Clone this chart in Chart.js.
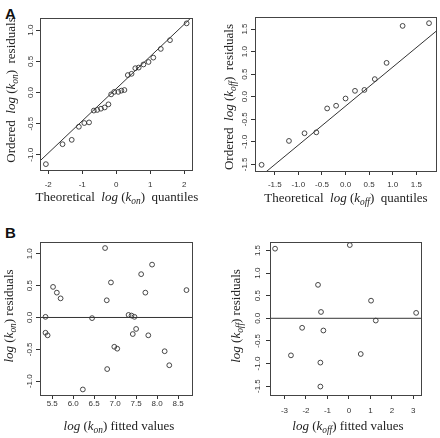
<!DOCTYPE html>
<html>
<head>
<meta charset="utf-8">
<script src="https://cdn.jsdelivr.net/npm/chart.js@4.4.1/dist/chart.umd.min.js"></script>
<style>
body { margin: 0; background: #fff; width: 440px; height: 438px; position: relative; overflow: hidden; }
canvas { position: absolute; }
.ttl { position: absolute; width: 220px; text-align: center; white-space: nowrap;
  font-family: "Liberation Serif", "Times New Roman", serif; font-size: 13px; line-height: 16px; color: #222; }
.ttl sub { font-size: 72%; vertical-align: -0.3em; line-height: 0; }
.rot { transform: rotate(-90deg); }
.lab { position: absolute; font-family: "Liberation Sans", Arial, sans-serif; font-weight: bold;
  font-size: 15px; line-height: 15px; color: #111; }
</style>
</head>
<body>
<div class="lab" style="left:5px;top:6px">A</div>
<div class="lab" style="left:5px;top:225px">B</div>

<canvas id="konQQ" width="187" height="187" style="left:10px;top:8px"></canvas>
<canvas id="koffQQ" width="216" height="189" style="left:225px;top:7px"></canvas>
<canvas id="konRes" width="187" height="188" style="left:10px;top:232px"></canvas>
<canvas id="koffRes" width="186" height="188" style="left:240px;top:232px"></canvas>

<div class="ttl" style="left:7px;top:189px">Theoretical&nbsp; <i>log</i> (<i>k</i><sub><i>on</i></sub>)&nbsp; quantiles</div>
<div class="ttl rot" style="left:-99px;top:82px">Ordered&nbsp; <i>log</i> (<i>k</i><sub><i>on</i></sub>)&nbsp; residuals</div>
<div class="ttl" style="left:236px;top:190px">Theoretical&nbsp; <i>log</i> (<i>k</i><sub><i>off</i></sub>)&nbsp; quantiles</div>
<div class="ttl rot" style="left:119px;top:89px">Ordered&nbsp; <i>log</i> (<i>k</i><sub><i>off</i></sub>)&nbsp; residuals</div>
<div class="ttl" style="left:9px;top:418px"><i>log</i> (<i>k</i><sub><i>on</i></sub>) fitted values</div>
<div class="ttl rot" style="left:-101px;top:308px"><i>log</i> (<i>k</i><sub><i>on</i></sub>) residuals</div>
<div class="ttl" style="left:238px;top:418px"><i>log</i> (<i>k</i><sub><i>off</i></sub>) fitted values</div>
<div class="ttl rot" style="left:126px;top:308px"><i>log</i> (<i>k</i><sub><i>off</i></sub>) residuals</div>

<script>
// A left: normal Q-Q of log(kon) residuals
const konTheoretical = [-2.07, -1.58, -1.31, -1.10, -0.94, -0.80, -0.66, -0.56, -0.45, -0.34, -0.23, -0.15, -0.06,
  0.06, 0.15, 0.24, 0.34, 0.45, 0.56, 0.66, 0.80, 0.95, 1.09, 1.31, 1.58, 2.07];
const konOrdered = [-1.15, -0.83, -0.76, -0.55, -0.49, -0.48, -0.29, -0.28, -0.26, -0.24, -0.19, -0.03, 0.01,
  0.01, 0.03, 0.04, 0.28, 0.30, 0.39, 0.40, 0.45, 0.49, 0.56, 0.70, 0.84, 1.11];
const konLineX = [-2.243, 2.231];
const konLineY = [-1.098, 1.215];

// A right: normal Q-Q of log(koff) residuals
const koffTheoretical = [-1.78, -1.20, -0.87, -0.62, -0.39, -0.20, 0.00, 0.20, 0.40, 0.62, 0.87, 1.21, 1.77];
const koffOrdered = [-1.51, -0.98, -0.81, -0.79, -0.26, -0.20, -0.04, 0.13, 0.15, 0.39, 0.75, 1.57, 1.63];
const koffLineX = [-1.92, 1.92];
const koffLineY = [-1.867, 1.451];

// B left: log(kon) residuals vs fitted
const konFitted = [5.34, 5.34, 5.39, 5.52, 5.61, 5.70, 6.23, 6.45, 6.76, 6.80, 6.81, 6.90, 6.98,
  7.05, 7.32, 7.39, 7.46, 7.42, 7.50, 7.62, 7.72, 7.79, 7.88, 8.18, 8.29, 8.70];
const konResid = [0.01, -0.24, -0.28, 0.48, 0.39, 0.30, -1.13, -0.01, 1.09, 0.27, -0.81, 0.55, -0.46,
  -0.49, 0.04, 0.03, 0.01, -0.26, -0.18, 0.68, 0.39, -0.28, 0.83, -0.53, -0.75, 0.43];

// B right: log(koff) residuals vs fitted
const koffFitted = [-3.44, -2.70, -2.18, -1.44, -1.30, -1.19, -1.33, -1.33, 0.04, 0.55, 1.03, 1.25, 3.13];
const koffResid = [1.54, -0.82, -0.21, 0.74, 0.14, -0.27, -0.98, -1.51, 1.62, -0.79, 0.39, -0.05, 0.12];

const zeroLineY = [0, 0];

// tick values
const konQQTicksX = [-2, -1, 0, 1, 2];
const konQQTicksY = [-1.0, -0.5, 0.0, 0.5, 1.0];
const koffQQTicksX = [-1.5, -1.0, -0.5, 0.0, 0.5, 1.0, 1.5];
const koffQQTicksY = [-1.5, -1.0, -0.5, 0.0, 0.5, 1.0, 1.5];
const konResTicksX = [5.5, 6.0, 6.5, 7.0, 7.5, 8.0, 8.5];
const konResTicksY = [-1.0, -0.5, 0.0, 0.5, 1.0];
const koffResTicksX = [-3, -2, -1, 0, 1, 2, 3];
const koffResTicksY = [-1.5, -1.0, -0.5, 0.0, 0.5, 1.0, 1.5];

const ink = '#333';

// R style box round the plot region
const boxPlugin = {
  id: 'box',
  afterDraw(chart) {
    const { ctx, chartArea: a } = chart;
    ctx.save();
    ctx.strokeStyle = '#444';
    ctx.lineWidth = 1;
    ctx.strokeRect(Math.round(a.left) + 0.5, Math.round(a.top) + 0.5,
      Math.round(a.right - a.left), Math.round(a.bottom - a.top));
    ctx.restore();
  }
};

function axis(min, max, ticks, digits, pad, isY) {
  return {
    type: 'linear',
    min: min,
    max: max,
    afterBuildTicks: s => { s.ticks = ticks.map(v => ({ value: v })); },
    afterFit: s => { if (isY) s.width = 30; else s.height = 25; },
    grid: { drawOnChartArea: false, drawTicks: true, tickLength: 4, color: ink, lineWidth: 1 },
    border: { display: false },
    ticks: {
      autoSkip: false,
      padding: pad,
      color: ink,
      font: { family: 'Liberation Sans', size: 8 },
      callback: v => v.toFixed(digits),
      minRotation: isY ? 90 : 0,
      maxRotation: isY ? 90 : 0,
      crossAlign: isY ? 'center' : 'near'
    }
  };
}

function pairs(xs, ys) {
  return xs.map((x, i) => ({ x: x, y: ys[i] }));
}

function makeChart(id, p) {
  new Chart(document.getElementById(id), {
    type: 'scatter',
    data: {
      datasets: [{
        data: pairs(p.xs, p.ys),
        showLine: false,
        pointRadius: 2.4,
        pointBorderWidth: 0.9,
        pointBorderColor: ink,
        pointBackgroundColor: 'rgba(0,0,0,0)'
      }, {
        data: pairs(p.lineX, p.lineY),
        showLine: true,
        pointRadius: 0,
        borderColor: ink,
        borderWidth: 1
      }]
    },
    options: {
      responsive: false,
      animation: false,
      devicePixelRatio: 1,
      layout: { padding: { top: 10, right: 4, left: 0, bottom: 0 } },
      plugins: { legend: { display: false }, tooltip: { enabled: false } },
      scales: {
        x: axis(p.x[0], p.x[1], p.xTicks, p.xDigits, p.xPad, false),
        y: axis(p.y[0], p.y[1], p.yTicks, 1, p.yPad, true)
      }
    },
    plugins: [boxPlugin]
  });
}

makeChart('konQQ', {
  xs: konTheoretical, ys: konOrdered, lineX: konLineX, lineY: konLineY,
  x: [-2.243, 2.231], y: [-1.244, 1.196], xTicks: konQQTicksX, yTicks: konQQTicksY,
  xDigits: 0, xPad: 6, yPad: -1.5
});
makeChart('koffQQ', {
  xs: koffTheoretical, ys: koffOrdered, lineX: koffLineX, lineY: koffLineY,
  x: [-1.92, 1.92], y: [-1.647, 1.767], xTicks: koffQQTicksX, yTicks: koffQQTicksY,
  xDigits: 1, xPad: 5, yPad: -0.5
});
makeChart('konRes', {
  xs: konFitted, ys: konResid, lineX: [5.209, 8.834], lineY: zeroLineY,
  x: [5.209, 8.834], y: [-1.217, 1.185], xTicks: konResTicksX, yTicks: konResTicksY,
  xDigits: 1, xPad: 0, yPad: -0.5
});
makeChart('koffRes', {
  xs: koffFitted, ys: koffResid, lineX: [-3.676, 3.361], lineY: zeroLineY,
  x: [-3.676, 3.361], y: [-1.697, 1.688], xTicks: koffResTicksX, yTicks: koffResTicksY,
  xDigits: 0, xPad: 7, yPad: 1.8
});
</script>
</body>
</html>
